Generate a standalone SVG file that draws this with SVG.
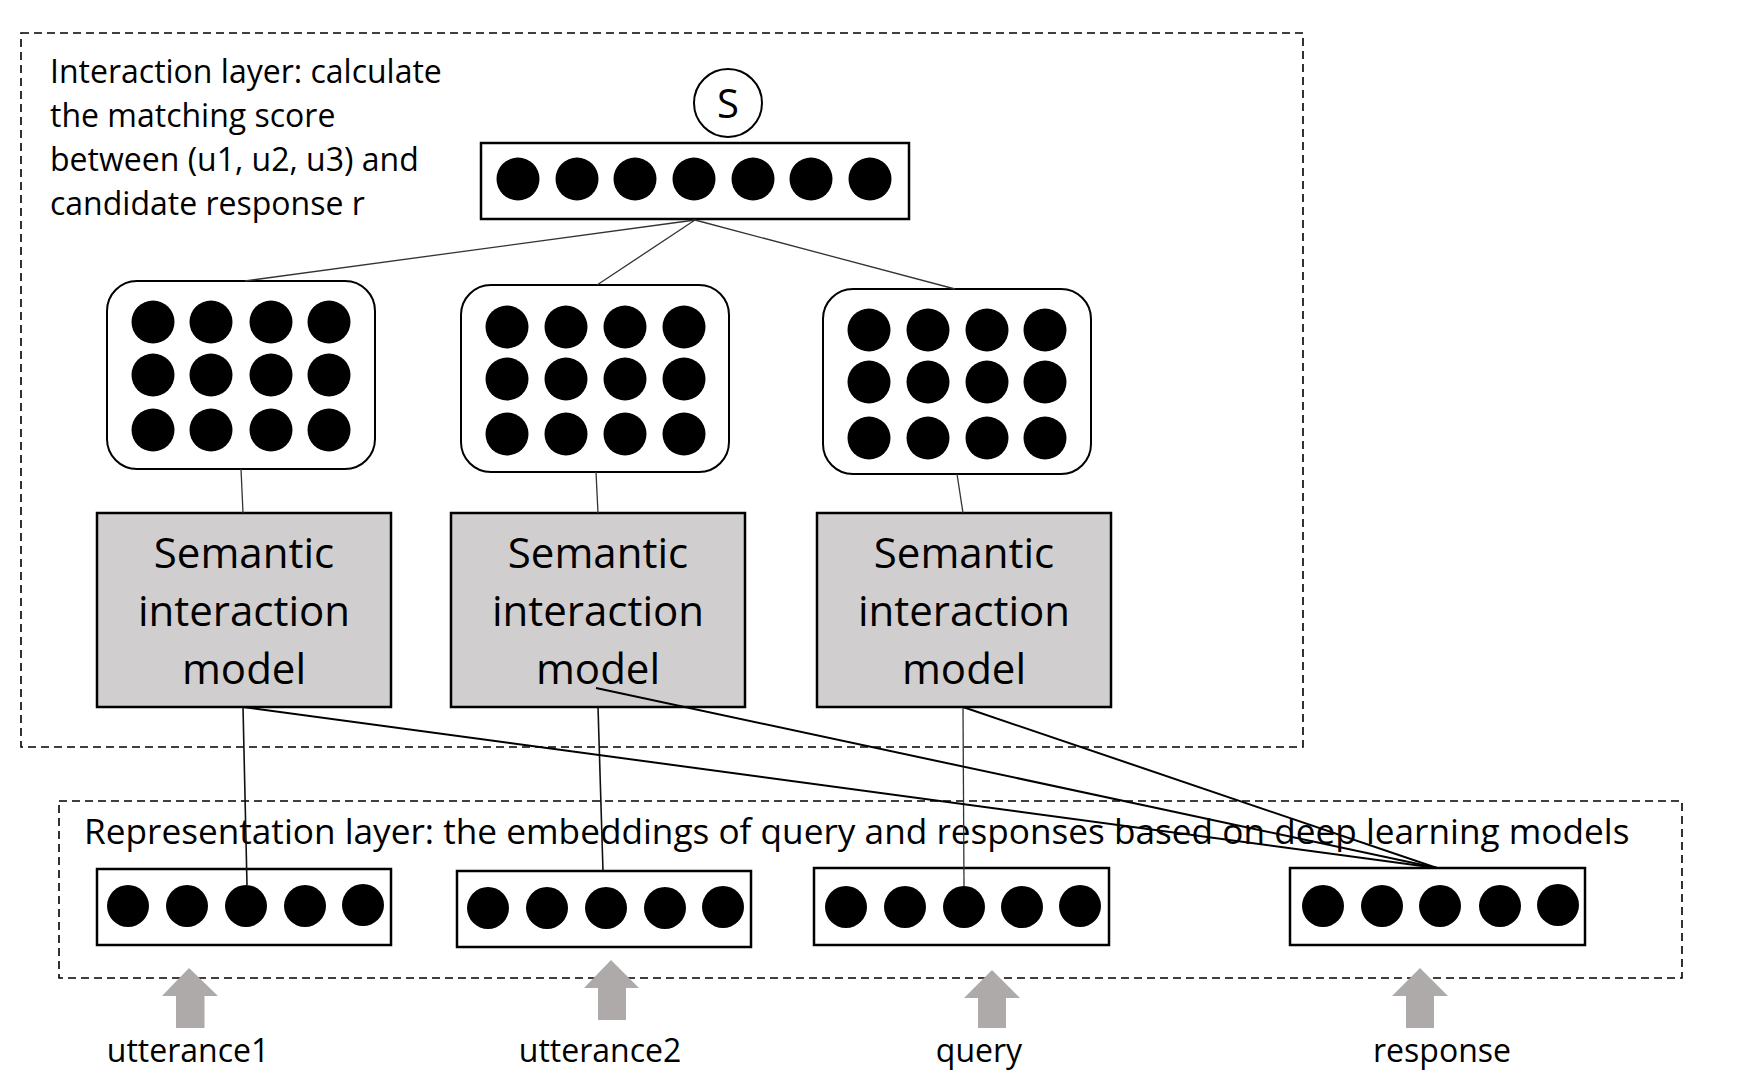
<svg xmlns="http://www.w3.org/2000/svg" width="1762" height="1072" viewBox="0 0 1762 1072">
<style>
text{font-family:"Open Sans","Liberation Sans",sans-serif;fill:#000}
.dash{fill:none;stroke:#000;stroke-width:1.6;stroke-dasharray:8 5}
.vec{fill:#fff;stroke:#000;stroke-width:2.5}
.mat{fill:#fff;stroke:#000;stroke-width:2}
.sem{fill:#d0cece;stroke:#000;stroke-width:2.5}
.dot{fill:#000}
.arrow{fill:#aeaaaa}
.thin{stroke:#333;stroke-width:1.3;fill:none}
.mid{stroke:#111;stroke-width:1.6;fill:none}
.thick{stroke:#000;stroke-width:2;fill:none}
.lbl{font-size:32px}
.semt{font-size:42px;text-anchor:middle}
</style>
<rect width="1762" height="1072" fill="#fff"/>

<g id="interaction-layer">
<rect class="dash" x="21" y="33" width="1282" height="714"/>
<text class="lbl" x="50" y="83">Interaction layer: calculate</text>
<text class="lbl" x="50" y="127">the matching score</text>
<text class="lbl" x="50" y="171">between (u1, u2, u3) and</text>
<text class="lbl" x="50" y="215">candidate response r</text>
</g>

<g id="representation-layer">
<rect class="dash" x="59" y="801" width="1623" height="177"/>
<text x="84" y="844" font-size="35.2">Representation layer: the embeddings of query and responses based on deep learning models</text>
</g>

<g id="score">
<circle cx="728" cy="103" r="34" fill="#fff" stroke="#000" stroke-width="2"/>
<text x="728" y="118" font-size="40" font-weight="500" text-anchor="middle">S</text>
</g>

<g id="top-vector">
<rect class="vec" x="481" y="143" width="428" height="76"/>
<circle class="dot" cx="518" cy="179" r="21.5"/>
<circle class="dot" cx="577" cy="179" r="21.5"/>
<circle class="dot" cx="635" cy="179" r="21.5"/>
<circle class="dot" cx="694" cy="179" r="21.5"/>
<circle class="dot" cx="753" cy="179" r="21.5"/>
<circle class="dot" cx="811" cy="179" r="21.5"/>
<circle class="dot" cx="870" cy="179" r="21.5"/>
</g>

<g id="matrix1">
<rect class="mat" x="107" y="281" width="268" height="188" rx="30"/>
<g class="dot">
<circle cx="153" cy="322" r="21.5"/><circle cx="211" cy="322" r="21.5"/><circle cx="271" cy="322" r="21.5"/><circle cx="329" cy="322" r="21.5"/>
<circle cx="153" cy="375" r="21.5"/><circle cx="211" cy="375" r="21.5"/><circle cx="271" cy="375" r="21.5"/><circle cx="329" cy="375" r="21.5"/>
<circle cx="153" cy="430" r="21.5"/><circle cx="211" cy="430" r="21.5"/><circle cx="271" cy="430" r="21.5"/><circle cx="329" cy="430" r="21.5"/>
</g>
</g>

<g id="matrix2">
<rect class="mat" x="461" y="285" width="268" height="187" rx="30"/>
<g class="dot">
<circle cx="507" cy="327" r="21.5"/><circle cx="566" cy="327" r="21.5"/><circle cx="625" cy="327" r="21.5"/><circle cx="684" cy="327" r="21.5"/>
<circle cx="507" cy="379" r="21.5"/><circle cx="566" cy="379" r="21.5"/><circle cx="625" cy="379" r="21.5"/><circle cx="684" cy="379" r="21.5"/>
<circle cx="507" cy="434" r="21.5"/><circle cx="566" cy="434" r="21.5"/><circle cx="625" cy="434" r="21.5"/><circle cx="684" cy="434" r="21.5"/>
</g>
</g>

<g id="matrix3">
<rect class="mat" x="823" y="289" width="268" height="185" rx="30"/>
<g class="dot">
<circle cx="869" cy="330" r="21.5"/><circle cx="928" cy="330" r="21.5"/><circle cx="987" cy="330" r="21.5"/><circle cx="1045" cy="330" r="21.5"/>
<circle cx="869" cy="382" r="21.5"/><circle cx="928" cy="382" r="21.5"/><circle cx="987" cy="382" r="21.5"/><circle cx="1045" cy="382" r="21.5"/>
<circle cx="869" cy="438" r="21.5"/><circle cx="928" cy="438" r="21.5"/><circle cx="987" cy="438" r="21.5"/><circle cx="1045" cy="438" r="21.5"/>
</g>
</g>

<g id="sim1">
<rect class="sem" x="97" y="513" width="294" height="194"/>
<text class="semt" x="244" y="568">Semantic</text>
<text class="semt" x="244" y="626">interaction</text>
<text class="semt" x="244" y="684">model</text>
</g>
<g id="sim2">
<rect class="sem" x="451" y="513" width="294" height="194"/>
<text class="semt" x="598" y="568">Semantic</text>
<text class="semt" x="598" y="626">interaction</text>
<text class="semt" x="598" y="684">model</text>
</g>
<g id="sim3">
<rect class="sem" x="817" y="513" width="294" height="194"/>
<text class="semt" x="964" y="568">Semantic</text>
<text class="semt" x="964" y="626">interaction</text>
<text class="semt" x="964" y="684">model</text>
</g>

<g id="vec-utterance1">
<rect class="vec" x="97" y="869" width="294" height="76"/>
<g class="dot"><circle cx="128" cy="906" r="21"/><circle cx="187" cy="906" r="21"/><circle cx="246" cy="906" r="21"/><circle cx="305" cy="906" r="21"/><circle cx="363" cy="905" r="21"/></g>
</g>
<g id="vec-utterance2">
<rect class="vec" x="457" y="871" width="294" height="76"/>
<g class="dot"><circle cx="488" cy="908" r="21"/><circle cx="547" cy="908" r="21"/><circle cx="606" cy="908" r="21"/><circle cx="665" cy="908" r="21"/><circle cx="723" cy="907" r="21"/></g>
</g>
<g id="vec-query">
<rect class="vec" x="814" y="868" width="295" height="77"/>
<g class="dot"><circle cx="846" cy="907" r="21"/><circle cx="905" cy="907" r="21"/><circle cx="964" cy="907" r="21"/><circle cx="1022" cy="907" r="21"/><circle cx="1080" cy="906" r="21"/></g>
</g>
<g id="vec-response">
<rect class="vec" x="1290" y="868" width="295" height="77"/>
<g class="dot"><circle cx="1323" cy="906" r="21"/><circle cx="1382" cy="906" r="21"/><circle cx="1440" cy="906" r="21"/><circle cx="1500" cy="906" r="21"/><circle cx="1558" cy="905" r="21"/></g>
</g>

<g id="input-utterance1">
<polygon class="arrow" points="189,968 218,996 204.5,996 204.5,1028 176,1028 176,996 162,996"/>
<text class="lbl" x="188" y="1062" text-anchor="middle">utterance1</text>
</g>
<g id="input-utterance2">
<polygon class="arrow" points="611,960 639,988 626,988 626,1020 598,1020 598,988 584,988"/>
<text class="lbl" x="600" y="1062" text-anchor="middle">utterance2</text>
</g>
<g id="input-query">
<polygon class="arrow" points="992,970 1020,998 1006,998 1006,1028 978,1028 978,998 964,998"/>
<text class="lbl" x="979" y="1062" text-anchor="middle">query</text>
</g>
<g id="input-response">
<polygon class="arrow" points="1420,968 1448,996 1434,996 1434,1028 1406,1028 1406,996 1392,996"/>
<text class="lbl" x="1442" y="1062" text-anchor="middle">response</text>
</g>

<g id="connectors">
<line class="thin" x1="695" y1="220" x2="245" y2="281"/>
<line class="thin" x1="695" y1="220" x2="597" y2="285"/>
<line class="thin" x1="695" y1="220" x2="955" y2="289"/>
<line class="thin" x1="241" y1="469" x2="243" y2="513"/>
<line class="thin" x1="596" y1="472" x2="598" y2="513"/>
<line class="thin" x1="957" y1="474" x2="963" y2="513"/>
<line class="mid" x1="243" y1="707" x2="247" y2="885"/>
<line class="mid" x1="598" y1="707" x2="603" y2="871"/>
<line class="thin" x1="963" y1="707" x2="964" y2="886"/>
<line class="thick" x1="243" y1="707" x2="1437" y2="868"/>
<line class="thick" x1="596" y1="688" x2="1437" y2="868"/>
<line class="thick" x1="963" y1="707" x2="1437" y2="868"/>
</g>
</svg>
